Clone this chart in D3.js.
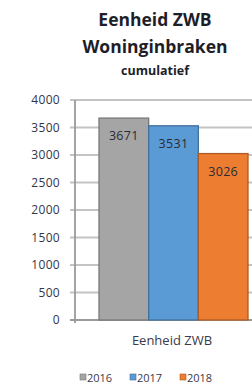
<!DOCTYPE html>
<html>
<head>
<meta charset="utf-8">
<script src="https://cdn.jsdelivr.net/npm/d3@7"></script>
<style>
  html, body { margin: 0; padding: 0; background: #fff; }
  svg { display: block; font-family: "Open Sans", Lato, sans-serif; }
</style>
</head>
<body>
<div id="chart"></div>
<script>
const category = 'Eenheid ZWB';
const years = ['2016', '2017', '2018'];
const values = [3671, 3531, 3026];
const yTicks = [0, 500, 1000, 1500, 2000, 2500, 3000, 3500, 4000];
const colors = ['#a5a5a5', '#5b9bd5', '#ed7d31'];

const width = 252,
    height = 387,
    plot = { left: 75, right: 252, top: 100, bottom: 320 };

const svg = d3.select('#chart')
    .append('svg')
    .attr('width', width)
    .attr('height', height);

// titles
const titles = [
    { text: 'Eenheid ZWB', y: 26, size: 17.5 },
    { text: 'Woninginbraken', y: 53, size: 17.5 },
    { text: 'cumulatief', y: 75, size: 12.5 }
];
svg.selectAll('text.title')
    .data(titles)
    .enter().append('text')
    .attr('class', 'title')
    .attr('x', 155)
    .attr('y', d => d.y)
    .attr('text-anchor', 'middle')
    .attr('font-weight', 'bold')
    .attr('font-size', d => d.size)
    .attr('fill', '#1e1e28')
    .text(d => d.text);

const y = d3.scaleLinear()
    .domain([0, 4000])
    .range([plot.bottom, plot.top]);

const x = d3.scaleBand()
    .domain(years)
    .range([99, 248])
    .paddingInner(0);

// gridlines
svg.append('g')
    .selectAll('line')
    .data(yTicks)
    .enter().append('line')
    .attr('x1', 70)
    .attr('x2', plot.right)
    .attr('y1', d => y(d))
    .attr('y2', d => y(d))
    .attr('stroke', d => d === 0 ? '#9a9a9a' : '#c4c4c4')
    .attr('stroke-width', 1.8);

// y axis line
svg.append('line')
    .attr('x1', plot.left)
    .attr('x2', plot.left)
    .attr('y1', plot.top)
    .attr('y2', plot.bottom + 3)
    .attr('stroke', '#9a9a9a')
    .attr('stroke-width', 1.8);

// tick labels
svg.append('g')
    .selectAll('text')
    .data(yTicks)
    .enter().append('text')
    .attr('x', 60)
    .attr('y', d => y(d) + 4.3)
    .attr('text-anchor', 'end')
    .attr('font-size', 12)
    .attr('letter-spacing', 0.3)
    .attr('fill', '#33364a')
    .text(d => d);

// bars
svg.append('g')
    .selectAll('rect')
    .data(values)
    .enter().append('rect')
    .attr('x', (d, i) => x(years[i]))
    .attr('y', d => y(d))
    .attr('width', x.bandwidth())
    .attr('height', d => y(0) - y(d))
    .attr('fill', (d, i) => colors[i])
    .attr('stroke', (d, i) => d3.rgb(colors[i]).darker(0.9))
    .attr('stroke-width', 1.3);

// value labels
svg.append('g')
    .selectAll('text')
    .data(values)
    .enter().append('text')
    .attr('x', (d, i) => x(years[i]) + x.bandwidth() / 2)
    .attr('y', d => y(d) + 22)
    .attr('text-anchor', 'middle')
    .attr('font-size', 12.5)
    .attr('letter-spacing', 0.3)
    .attr('fill', '#2a2a35')
    .text(d => d);

// category label
svg.append('text')
    .attr('x', 172)
    .attr('y', 345)
    .attr('text-anchor', 'middle')
    .attr('font-size', 13)
    .attr('fill', '#3a3a48')
    .text(category);

// legend
const legend = svg.append('g')
    .selectAll('g')
    .data(years)
    .enter().append('g')
    .attr('transform', (d, i) => `translate(${80 + i * 50},374)`);
legend.append('rect')
    .attr('width', 6)
    .attr('height', 6)
    .attr('fill', (d, i) => colors[i])
    .attr('stroke', (d, i) => d3.rgb(colors[i]).darker(0.9))
    .attr('stroke-width', 0.6);
legend.append('text')
    .attr('x', 7)
    .attr('y', 7.5)
    .attr('font-size', 11)
    .attr('fill', '#3a3a48')
    .text(d => d);
</script>
</body>
</html>
